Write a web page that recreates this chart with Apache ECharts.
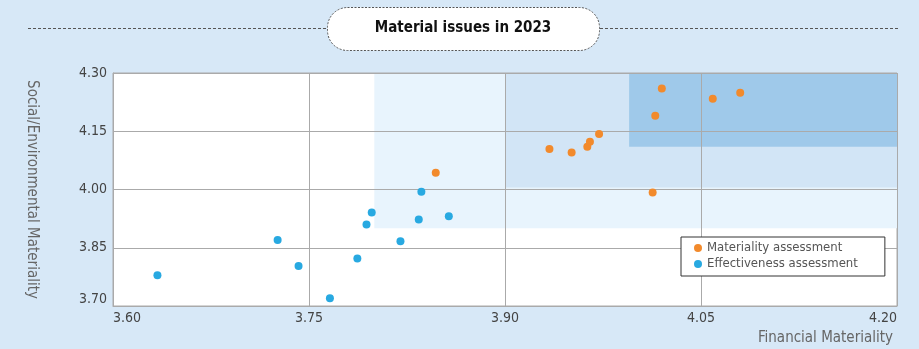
<!DOCTYPE html>
<html>
<head>
<meta charset="utf-8">
<script src="https://cdn.jsdelivr.net/npm/echarts@6/dist/echarts.min.js"></script>
<style>
  html, body { margin: 0; padding: 0; background: #d7e8f7; }
  #chart { width: 919px; height: 349px; }
</style>
</head>
<body>
<div id="chart"></div>
<script>
// Materiality assessment (orange)
const matX = [3.847, 3.934, 3.951, 3.963, 3.965, 3.972, 4.013, 4.015, 4.020, 4.059, 4.080];
const matY = [4.043, 4.104, 4.095, 4.110, 4.123, 4.143, 3.992, 4.190, 4.260, 4.234, 4.249];
// Effectiveness assessment (blue)
const effX = [3.634, 3.726, 3.742, 3.766, 3.787, 3.794, 3.798, 3.820, 3.834, 3.836, 3.857];
const effY = [3.779, 3.870, 3.803, 3.720, 3.822, 3.910, 3.941, 3.867, 3.923, 3.994, 3.931];

const xTicks = [3.60, 3.75, 3.90, 4.05, 4.20];
const yTicks = [3.70, 3.85, 4.00, 4.15, 4.30];

// shaded zones: [xFrom, yFrom, xTo, yTo]
const zoneLight = [3.80, 3.90, 4.20, 4.30];
const zoneMid = [3.90, 4.005, 4.20, 4.30];
const zoneDark = [3.995, 4.11, 4.20, 4.30];

const FONT = "'Liberation Sans Narrow', 'DejaVu Sans Condensed', sans-serif";

const zone = (z, color) => [
  { coord: [z[0], z[1]], itemStyle: { color: color } },
  { coord: [z[2], z[3]] }
];

const chart = echarts.init(document.getElementById('chart'));

const option = {
  backgroundColor: '#d7e8f7',
  animation: false,
  graphic: [
    { type: 'line', z: 1, shape: { x1: 28, y1: 28.5, x2: 327, y2: 28.5 },
      style: { stroke: '#555', lineWidth: 1, lineDash: [3, 2] } },
    { type: 'line', z: 1, shape: { x1: 600, y1: 28.5, x2: 898, y2: 28.5 },
      style: { stroke: '#555', lineWidth: 1, lineDash: [3, 2] } },
    { type: 'rect', z: 2, shape: { x: 327.5, y: 7.5, width: 272, height: 43, r: 20 },
      style: { fill: '#fff', stroke: '#555', lineWidth: 1, lineDash: [2, 1.5] } },
    { type: 'text', z: 3, x: 463, y: 28,
      style: { text: 'Material issues in 2023', fill: '#111', font: 'bold 15px ' + FONT,
        textAlign: 'center', textVerticalAlign: 'middle' } }
  ],
  legend: {
    orient: 'vertical',
    left: 681,
    top: 237,
    data: ['Materiality assessment', 'Effectiveness assessment'],
    icon: 'circle',
    itemWidth: 8,
    itemHeight: 8,
    itemGap: 0,
    padding: [3, 27, 4, 13],
    backgroundColor: '#fff',
    borderColor: '#333',
    borderWidth: 1,
    borderRadius: 0,
    textStyle: { fontFamily: FONT, fontSize: 13, color: '#555', lineHeight: 16 }
  },
  grid: {
    left: 113,
    right: 22,
    top: 73,
    bottom: 43,
    show: true,
    backgroundColor: '#fff',
    borderColor: '#aaa',
    borderWidth: 1
  },
  xAxis: {
    type: 'value',
    min: 3.6,
    max: 4.2,
    z: 2,
    name: 'Financial Materiality',
    nameLocation: 'end',
    nameGap: 0,
    nameTextStyle: { fontFamily: FONT, fontSize: 15, color: '#666', align: 'right',
      verticalAlign: 'top', padding: [25, 4, 0, 0] },
    axisLine: { lineStyle: { color: '#aaa' } },
    axisTick: { show: false, customValues: xTicks },
    axisLabel: { customValues: xTicks, formatter: v => v.toFixed(2), margin: 5,
      alignMinLabel: 'left', alignMaxLabel: 'right',
      fontFamily: FONT, fontSize: 14, color: '#444' },
    splitLine: { lineStyle: { color: '#aaa', width: 1 } }
  },
  yAxis: {
    type: 'value',
    min: 3.7,
    max: 4.3,
    z: 2,
    name: 'Social/Environmental Materiality',
    nameLocation: 'middle',
    nameRotate: -90,
    nameGap: 74,
    nameTextStyle: { fontFamily: FONT, fontSize: 15, color: '#666' },
    axisLine: { show: true, lineStyle: { color: '#aaa' } },
    axisTick: { show: false, customValues: yTicks },
    axisLabel: { customValues: yTicks, formatter: v => v.toFixed(2), margin: 6,
      verticalAlignMinLabel: 'bottom',
      fontFamily: FONT, fontSize: 14, color: '#444' },
    splitLine: { lineStyle: { color: '#aaa', width: 1 } }
  },
  series: [
    {
      name: 'Materiality assessment',
      type: 'scatter',
      z: 4,
      symbolSize: 8,
      itemStyle: { color: '#f28a2c', opacity: 1 },
      data: matX.map((x, i) => [x, matY[i]]),
      markArea: {
        silent: true,
        z: 1,
        data: [
          zone(zoneLight, '#e8f4fd'),
          zone(zoneMid, '#d2e5f6'),
          zone(zoneDark, '#9fc9ea')
        ]
      }
    },
    {
      name: 'Effectiveness assessment',
      type: 'scatter',
      z: 4,
      symbolSize: 8,
      itemStyle: { color: '#28a9e1', opacity: 1 },
      data: effX.map((x, i) => [x, effY[i]])
    }
  ]
};

chart.setOption(option);
</script>
</body>
</html>
